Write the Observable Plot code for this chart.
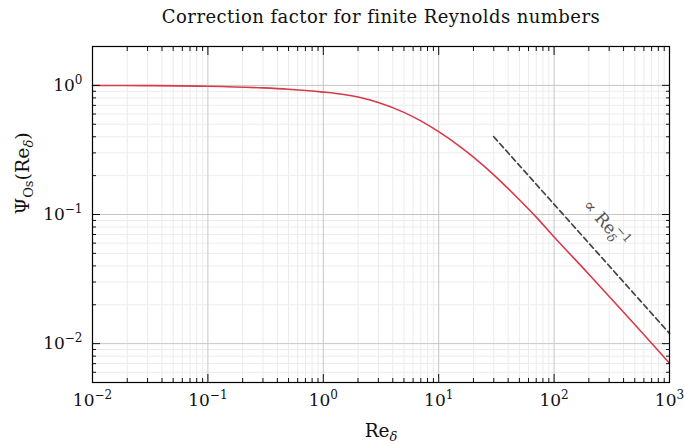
<!DOCTYPE html>
<html><head><meta charset="utf-8">
<script src="https://cdn.jsdelivr.net/npm/d3@7"></script>
<script src="https://cdn.jsdelivr.net/npm/@observablehq/plot@0.6"></script>
<style>body{margin:0;background:#fff} #chart svg{overflow:visible}</style>
</head><body><div id="chart"></div>
<script>
// Data
const reValues  = [0.01, 0.03, 0.1, 0.3, 0.5, 0.7, 1, 1.5, 2, 3, 5, 7, 10, 15, 20, 30, 50, 70, 100, 200, 300, 500, 700, 1000];
const psiValues = [0.999, 0.996, 0.985, 0.956, 0.933, 0.913, 0.887, 0.850, 0.812, 0.737, 0.618, 0.531, 0.438, 0.340, 0.278, 0.203, 0.130, 0.0954, 0.067, 0.0345, 0.0232, 0.01406, 0.01007, 0.00705];
const guideRe  = [30, 1000];
const guidePsi = [0.4, 0.012];
const guideLabelRe = [280];
const guideLabelPsi = [0.085];
const xMajor = [1e-2, 1e-1, 1, 10, 100, 1000];
const yMajor = [1e-2, 1e-1, 1];
const xMinor = [1e-2, 1e-1, 1, 10, 100].flatMap(d => [2,3,4,5,6,7,8,9].map(m => m * d));
const yMinor = [1e-3, 1e-2, 1e-1, 1].flatMap(d => [2,3,4,5,6,7,8,9].map(m => m * d)).filter(v => v >= 0.005 && v <= 2);
const titleText = "Correction factor for finite Reynolds numbers";

const curve = reValues.map((r, i) => ({re: r, psi: psiValues[i]}));
const guide = guideRe.map((r, i) => ({re: r, psi: guidePsi[i]}));
const guideLabel = guideLabelRe.map((r, i) => ({re: r, psi: guideLabelPsi[i]}));
const expFmt = d => "10^" + String(Math.round(Math.log10(d))).replace("-", "\u2212");
const SERIF = "'DejaVu Serif', serif";

const chart = Plot.plot({
  width: 684, height: 444,
  marginTop: 46, marginBottom: 62, marginLeft: 92, marginRight: 15,
  style: {fontFamily: SERIF, fontSize: "17px", color: "#111", background: "#fff"},
  x: {type: "log", domain: [0.01, 1000]},
  y: {type: "log", domain: [0.005, 2]},
  marks: [
    Plot.gridX(xMinor, {stroke: "#ececec", strokeOpacity: 1, strokeWidth: 1}),
    Plot.gridY(yMinor, {stroke: "#ececec", strokeOpacity: 1, strokeWidth: 1}),
    Plot.gridX(xMajor, {stroke: "#c6c6c6", strokeOpacity: 1, strokeWidth: 1}),
    Plot.gridY(yMajor, {stroke: "#c6c6c6", strokeOpacity: 1, strokeWidth: 1}),
    Plot.line(guide, {x: "re", y: "psi", stroke: "#444", strokeWidth: 1.7, strokeDasharray: "5.5,3.5"}),
    Plot.line(curve, {x: "re", y: "psi", stroke: "#d8394b", strokeWidth: 1.6, curve: "monotone-x"}),
    Plot.text(guideLabel, {x: "re", y: "psi", text: () => "LBL", rotate: 48, fill: "#555", fontSize: 17}),
    // ticks (inward, mirrored)
    Plot.axisX(xMajor, {anchor: "bottom", tickSize: -8, text: null, label: null, strokeWidth: 1}),
    Plot.axisX(xMinor, {anchor: "bottom", tickSize: -4, text: null, label: null, strokeWidth: 1}),
    Plot.axisX(xMajor, {anchor: "top", tickSize: -8, text: null, label: null, strokeWidth: 1}),
    Plot.axisX(xMinor, {anchor: "top", tickSize: -4, text: null, label: null, strokeWidth: 1}),
    Plot.axisY(yMajor, {anchor: "left", tickSize: -8, text: null, label: null, strokeWidth: 1}),
    Plot.axisY(yMinor, {anchor: "left", tickSize: -4, text: null, label: null, strokeWidth: 1}),
    Plot.axisY(yMajor, {anchor: "right", tickSize: -8, text: null, label: null, strokeWidth: 1}),
    Plot.axisY(yMinor, {anchor: "right", tickSize: -4, text: null, label: null, strokeWidth: 1}),
    // tick labels
    Plot.axisX(xMajor, {anchor: "bottom", tickSize: 0, tickPadding: 11, tickFormat: expFmt, label: null, fontSize: 17}),
    Plot.axisY(yMajor, {anchor: "left", tickSize: 0, tickPadding: 10, tickFormat: expFmt, label: null, fontSize: 17}),
    Plot.frame({stroke: "#000", strokeWidth: 1.2}),
    // title and axis labels
    Plot.text([titleText], {text: d => d, frameAnchor: "top", dy: -36, fontSize: 18, fill: "#111"}),
    Plot.text(["XLAB"], {text: d => d, frameAnchor: "bottom", dy: 54, fontSize: 18.5, fill: "#111"}),
    Plot.text(["YLAB"], {text: d => d, frameAnchor: "left", dx: -70, rotate: -90, fontSize: 19, fill: "#111"})
  ]
});
document.getElementById("chart").appendChild(chart);

const root = d3.select(chart);
const byContent = s => root.selectAll("text").filter(function() { return this.textContent === s; });
root.selectAll('g[aria-label="x-axis tick label"] text, g[aria-label="y-axis tick label"] text').each(function() {
  const t = d3.select(this);
  const [b, e] = t.text().split("^");
  t.text(b);
  t.append("tspan").attr("dy", "-7").attr("font-size", "12px").text(e);
});
byContent(titleText).attr("letter-spacing", "0.45px");
byContent("XLAB").each(function() {
  const t = d3.select(this);
  t.text("Re");
  t.append("tspan").attr("dy", "4").attr("font-size", "13px").attr("font-style", "italic").text("\u03b4");
});
byContent("YLAB").each(function() {
  const t = d3.select(this);
  t.text("\u03a8");
  t.append("tspan").attr("dy", "4").attr("font-size", "13px").text("Os");
  t.append("tspan").attr("dy", "-4").text("(Re");
  t.append("tspan").attr("dy", "4").attr("font-size", "13px").attr("font-style", "italic").text("\u03b4");
  t.append("tspan").attr("dy", "-4").text(")");
});
byContent("LBL").each(function() {
  const t = d3.select(this);
  t.text("\u221d Re");
  t.append("tspan").attr("dy", "4").attr("font-size", "12px").attr("font-style", "italic").text("\u03b4");
  t.append("tspan").attr("dy", "-12").attr("dx", "-7").attr("font-size", "12px").text("\u22121");
});
</script>
</body></html>
